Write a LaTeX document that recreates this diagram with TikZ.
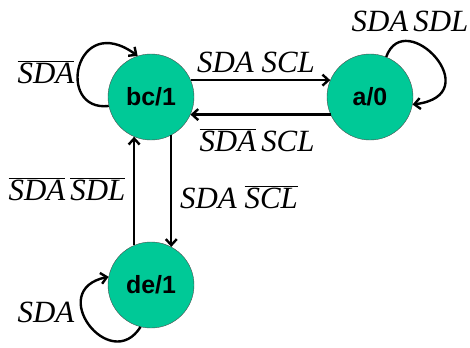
\documentclass[tikz,border=0pt]{standalone}
\usepackage{fontspec}
\setmainfont{Liberation Serif}
\newfontfamily\statefont{Liberation Sans}
\usetikzlibrary{arrows.meta}
\definecolor{stategreen}{RGB}{0,201,151}
\newcommand{\nt}[1]{$\overline{\mbox{\itshape #1}}$}

\begin{document}
\begin{tikzpicture}[x=1bp,y=-1bp,>={Straight Barb[length=6bp,width=11bp]},
    statenode/.style={circle,draw=black!70,fill=stategreen,minimum size=86bp,inner sep=0pt,
        font=\statefont\bfseries\fontsize{25}{26}\selectfont},
    lbl/.style={inner sep=0pt,font=\itshape\fontsize{31}{33}\selectfont},
    trans/.style={->,line width=2.4bp,black}]
    \useasboundingbox (0,0) rectangle (470,347);
    \node[statenode] (bc) at (151,97) {bc/1};
    \node[statenode] (a) at (370,97) {a/0};
    \node[statenode] (de) at (151,285) {de/1};
    % transitions between states
    \draw[trans] (bc.23) -- (a.157);
    \draw[trans] (a.-156) -- (bc.-24);
    \draw[trans] (bc.-62) -- (de.62);
    \draw[trans] (de.113) -- (bc.-113);
    % self loops
    \draw[trans] (bc.192) .. controls (55,112) and (75,10) .. (bc.108);
    \draw[trans] (a.68) .. controls (405,5) and (490,95) .. (a.-10);
    \draw[trans] (de.-104) .. controls (110,375) and (45,290) .. (de.169);
    % labels
    \node[lbl] (lbcloop) at (46,72) {\nt{SDA}};
    \node[lbl] (lbca) at (256,62) {SDA SCL};
    \node[lbl] (laloop) at (410,21) {SDA\,SDL};
    \node[lbl] (labc) at (257,140) {\nt{SDA}\,SCL};
    \node[lbl] (ldebc) at (67,189) {\nt{SDA}\,\nt{SDL}};
    \node[lbl] (lbcde) at (239,197) {SDA \nt{SCL}};
    \node[lbl] (ldeloop) at (46,312) {SDA};
\end{tikzpicture}
\end{document}
